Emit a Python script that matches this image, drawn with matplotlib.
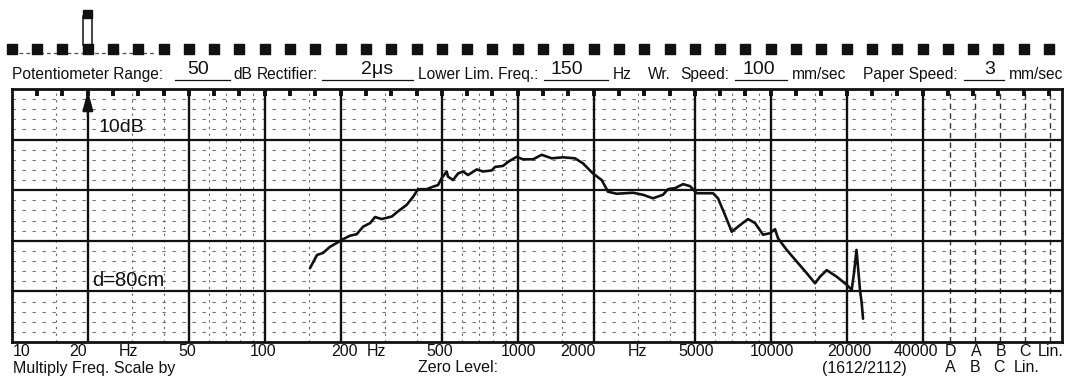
import matplotlib
matplotlib.use('Agg')
import matplotlib.pyplot as plt
from matplotlib.patches import Rectangle
import matplotlib.transforms as mtransforms

W, H = 1067, 376
plt.rcParams['font.family'] = ['Liberation Sans', 'DejaVu Sans']

# frequency response trace (Hz, dB above chart bottom)
freq_hz = [151, 161, 170, 181, 193, 202, 217, 231, 245, 261,
           273, 290, 318, 336, 364, 386, 404, 437, 463, 484,
           501, 524, 530, 555, 581, 608, 636, 689, 729, 789,
           814, 875, 916, 991, 1049, 1150, 1244, 1363, 1510, 1685,
           1812, 1984, 2148, 2275, 2462, 2856, 3128, 3425, 3752, 3927,
           4185, 4502, 4798, 5100, 5916, 6191, 6598, 7013, 7564, 8135,
           8670, 9325, 9936, 10400, 10690, 11570, 12670, 13880, 14970, 15660,
           16650, 18240, 19980, 20900, 21340, 21830, 22190, 22540, 22890, 23170]
level_db = [14.6, 17.2, 17.6, 18.8, 19.6, 20.2, 21.0, 21.3, 22.8, 23.5,
            24.7, 24.3, 24.8, 25.8, 27.1, 28.7, 30.2, 30.2, 30.7, 31.0,
            32.4, 33.7, 32.7, 32.0, 33.3, 33.7, 33.0, 34.1, 33.7, 33.9,
            34.6, 34.8, 35.6, 36.6, 36.1, 36.1, 37.0, 36.3, 36.5, 36.3,
            35.3, 33.3, 32.0, 29.7, 29.3, 29.5, 29.1, 28.4, 29.1, 30.2,
            30.4, 31.2, 30.8, 29.4, 29.4, 28.4, 25.1, 21.8, 23.1, 24.3,
            23.5, 21.2, 21.5, 22.3, 20.5, 18.2, 15.9, 13.6, 11.6, 12.9,
            14.2, 12.9, 11.3, 10.3, 13.6, 18.2, 14.2, 10.3, 7.7, 4.6]

# chart paper grid
heavy_freqs = [20, 50, 100, 200, 500, 1000, 2000, 5000, 10000, 20000, 40000]
light_freqs = [15, 30, 40, 60, 70, 80, 90,
               150, 300, 400, 600, 700, 800, 900,
               1500, 3000, 4000, 6000, 7000, 8000, 9000,
               15000, 30000]
weight_cols = [51100, 64200, 80600, 101200, 127100]  # D A B C Lin columns
f_left, f_right = 10, 141700

fig = plt.figure(figsize=(W / 100, H / 100), dpi=100)
ax = fig.add_axes([11.7 / W, 1 - 342 / H, (1062 - 11.7) / W, (342 - 89) / H])
ax.set_xscale('log')
ax.set_xlim(f_left, f_right)
ax.set_ylim(0, 50)
ax.tick_params(which='both', length=0, labelbottom=False, labelleft=False)
for s in ax.spines.values():
    s.set_linewidth(2.0)
    s.set_color('#111')

ink = '#111'
for db in range(2, 50, 2):
    if db % 10:
        ax.axhline(db, color='0.45', lw=0.8, ls=(0, (3, 6)), zorder=1)
for db in (10, 20, 30, 40):
    ax.axhline(db, color=ink, lw=1.6, zorder=2)
for f in light_freqs:
    ax.axvline(f, color='0.4', lw=0.8, ls=(0, (2, 4)), zorder=1)
for f in weight_cols:
    ax.axvline(f, color='0.2', lw=1.0, ls=(0, (4, 3)), zorder=1)
for f in heavy_freqs:
    ax.axvline(f, color=ink, lw=1.7, zorder=2)

# tick marks hanging from the top edge every 0.1 decade
top_marks = [10 ** (1 + 0.1 * k) for k in range(1, 42)]
ax.vlines(top_marks, 48.6, 50, color=ink, lw=2.8, zorder=3)

# arrow on the 20 Hz line
ax.annotate('', xy=(20, 49.7), xytext=(20, 44.5),
            arrowprops=dict(arrowstyle='-|>,head_length=1.2,head_width=0.32',
                            color=ink, lw=1.5, shrinkA=0, shrinkB=0), zorder=4)

ax.plot(freq_hz, level_db, color=ink, lw=1.9, solid_joinstyle='round',
        solid_capstyle='round', zorder=5)

# sprocket holes, aligned with the top marks
blend = mtransforms.blended_transform_factory(ax.transData, fig.transFigure)
holes = [10 ** (1 + 0.1 * k) for k in range(0, 42)]
ax.scatter(holes, [1 - 48.5 / H] * len(holes), marker='s', s=52, color=ink,
           transform=blend, clip_on=False, zorder=5)
ax.plot([10 ** 1.03, 10 ** 1.57], [1 - 53 / H] * 2, color='0.3', lw=0.9,
        ls=(0, (3, 2.5)), transform=blend, clip_on=False)


def fx(px):
    return px / W


def fy(py):
    return 1 - py / H


# pen position indicator
fig.add_artist(Rectangle((fx(83), fy(45)), 9 / W, 29 / H, transform=fig.transFigure,
                         fill=False, lw=1.1, ec=ink))
fig.add_artist(Rectangle((fx(83), fy(18)), 9 / W, 8 / H, transform=fig.transFigure,
                         color=ink))

# header line
hdr = 11.2
header = [(12, 'Potentiometer Range:'), (233, 'dB'), (257, 'Rectifier:'),
          (418, 'Lower Lim. Freq.:'), (613, 'Hz'), (648, 'Wr.'), (680, 'Speed:'),
          (792, 'mm/sec'), (863, 'Paper Speed:'), (1009, 'mm/sec')]
for px, s in header:
    fig.text(fx(px), fy(79), s, fontsize=hdr, ha='left', va='baseline', color=ink)
blanks = [(175, 230, '50'), (322, 413, '2μs'), (544, 608, '150'),
          (735, 787, '100'), (964, 1004, '3')]
hand_x = {'50': 198, '2μs': 377, '150': 567, '100': 759, '3': 990}
for x0, x1, s in blanks:
    fig.add_artist(plt.Line2D([fx(x0), fx(x1)], [fy(79.5)] * 2,
                              transform=fig.transFigure, lw=0.9, color=ink))
    fig.text(fx(hand_x[s]), fy(74), s, fontsize=14, ha='center', va='baseline', color=ink)

# labels inside the chart
fig.text(fx(98), fy(127), '10dB', fontsize=14, ha='left', va='center', color=ink)
fig.text(fx(92), fy(280), 'd=80cm', fontsize=14.5, ha='left', va='center', color=ink)

# frequency scale under the chart
lab = 11.5
row1 = [(13, '10', 'left'), (78, '20', 'center'), (128, 'Hz', 'center'),
        (187, '50', 'center'), (263, '100', 'center'), (345, '200', 'center'),
        (376, 'Hz', 'center'), (440, '500', 'center'), (518, '1000', 'center'),
        (578, '2000', 'center'), (637, 'Hz', 'center'), (696, '5000', 'center'),
        (772, '10000', 'center'), (849, '20000', 'center'), (916, '40000', 'center'),
        (950, 'D', 'center'), (976, 'A', 'center'), (1001, 'B', 'center'),
        (1025, 'C', 'center'), (1051, 'Lin.', 'center')]
for px, s, ha in row1:
    fig.text(fx(px), fy(352), s, fontsize=lab, ha=ha, va='center', color=ink)
row2 = [(13, 'Multiply Freq. Scale by', 'left'), (418, 'Zero Level:', 'left'),
        (864, '(1612/2112)', 'center'), (950, 'A', 'center'), (975, 'B', 'center'),
        (999, 'C', 'center'), (1027, 'Lin.', 'center')]
for px, s, ha in row2:
    fig.text(fx(px), fy(368), s, fontsize=lab, ha=ha, va='center', color=ink)

fig.savefig('out.png', dpi=100, facecolor='white')
